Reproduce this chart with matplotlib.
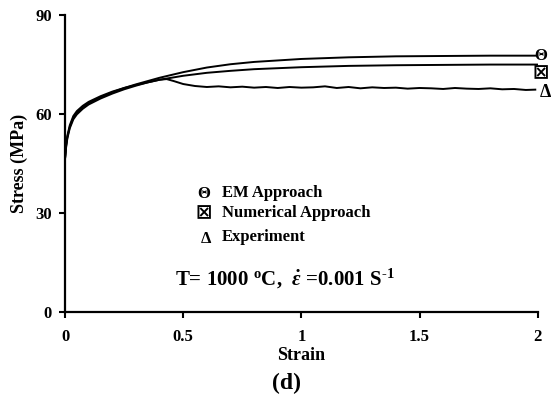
import matplotlib
matplotlib.use('Agg')
import matplotlib.pyplot as plt

# flow stress curves at 1000 C, strain rate 0.001 1/s
em_strain = [0, 0.005, 0.01, 0.02, 0.035, 0.05, 0.075, 0.1, 0.15, 0.2, 0.25, 0.3, 0.4, 0.5,
             0.6, 0.7, 0.8, 1.0, 1.2, 1.4, 1.6, 1.8, 2.0]
em_stress = [46.5, 50.5, 53.0, 56.0, 58.8, 60.3, 62.0, 63.2, 65.0, 66.5, 67.8, 68.9, 70.9, 72.6,
             74.0, 75.0, 75.7, 76.6, 77.1, 77.4, 77.5, 77.6, 77.6]

num_strain = [0, 0.005, 0.01, 0.02, 0.035, 0.05, 0.075, 0.1, 0.15, 0.2, 0.25, 0.3, 0.4, 0.5,
              0.6, 0.7, 0.8, 1.0, 1.2, 1.4, 1.6, 1.8, 2.0]
num_stress = [46.5, 50.9, 53.4, 56.5, 59.3, 60.8, 62.4, 63.6, 65.3, 66.7, 67.8, 68.7, 70.3, 71.5,
              72.4, 73.0, 73.5, 74.1, 74.5, 74.7, 74.8, 74.9, 74.9]

exp_strain = [0, 0.005, 0.01, 0.02, 0.035, 0.05, 0.075, 0.1, 0.15, 0.2, 0.25, 0.3, 0.35, 0.4,
              0.43, 0.46, 0.5, 0.55, 0.6, 0.65, 0.7, 0.75, 0.8, 0.85, 0.9, 0.95, 1.0, 1.05,
              1.1, 1.15, 1.2, 1.25, 1.3, 1.35, 1.4, 1.45, 1.5, 1.55, 1.6, 1.65, 1.7, 1.75,
              1.8, 1.85, 1.9, 1.95, 1.99]
exp_stress = [46.5, 50.2, 52.6, 55.6, 58.3, 59.8, 61.5, 62.8, 64.6, 66.1, 67.4, 68.5, 69.5, 70.3,
              70.5, 69.9, 69.0, 68.4, 68.1, 68.3, 68.0, 68.2, 67.9, 68.1, 67.8, 68.1, 67.9, 68.0,
              68.3, 67.8, 68.1, 67.7, 68.0, 67.8, 67.9, 67.6, 67.8, 67.7, 67.5, 67.8, 67.6, 67.5,
              67.7, 67.4, 67.5, 67.2, 67.3]

x_ticks = [0, 0.5, 1, 1.5, 2]
x_tick_labels = ['0', '0.5', '1', '1.5', '2']
y_ticks = [0, 30, 60, 90]

serif = 'Liberation Serif'
plt.rcParams['mathtext.fontset'] = 'custom'
plt.rcParams['mathtext.rm'] = 'Liberation Serif:bold'
plt.rcParams['mathtext.bf'] = 'Liberation Serif:bold'
plt.rcParams['mathtext.it'] = 'Liberation Serif:italic:bold'

fig = plt.figure(figsize=(5.56, 3.99), dpi=100)
ax = fig.add_axes([0.117, 0.219, 0.850, 0.744])

for xs, ys in [(em_strain, em_stress), (num_strain, num_stress), (exp_strain, exp_stress)]:
    ax.plot(xs, ys, color='black', lw=1.4)

ax.set_xlim(0, 2)
ax.set_ylim(0, 90)
ax.set_xticks(x_ticks)
ax.set_xticklabels(x_tick_labels)
ax.set_yticks(y_ticks)
for side in ['top', 'right']:
    ax.spines[side].set_visible(False)
for side in ['left', 'bottom']:
    ax.spines[side].set_linewidth(1.6)
ax.tick_params(direction='out', length=4.5, width=1.5)
ax.tick_params(axis='y', pad=5)
ax.tick_params(axis='x', pad=8)
for lbl in ax.get_xticklabels() + ax.get_yticklabels():
    lbl.set_fontfamily(serif)
    lbl.set_fontweight('bold')
    lbl.set_fontsize(12)

ax.set_xlabel('Strain', fontfamily=serif, fontweight='bold', fontsize=13)
ax.xaxis.set_label_coords(0.5, -0.118)
ax.set_ylabel('Stress (MPa)', fontfamily=serif, fontweight='bold', fontsize=13)
ax.yaxis.set_label_coords(-0.078, 0.5)

# end-of-curve symbols
ax.text(2.013, em_stress[-1], '\u0398', fontfamily=serif, fontweight='bold', fontsize=12,
        ha='center', va='center', clip_on=False)
ax.text(2.013, 72.6, '\u22a0', fontfamily='DejaVu Sans', fontweight='bold', fontsize=14,
        ha='center', va='center', clip_on=False)
ax.text(2.034, 66.3, '\u0394', fontfamily=serif, fontweight='bold', fontsize=13,
        ha='center', va='center', clip_on=False)

# key
ax.text(0.588, 35.6, '\u0398', fontfamily=serif, fontweight='bold', fontsize=12, ha='center', va='center')
ax.text(0.588, 30.0, '\u22a0', fontfamily='DejaVu Sans', fontweight='bold', fontsize=14, ha='center', va='center')
ax.text(0.596, 22.0, '\u0394', fontfamily=serif, fontweight='bold', fontsize=12, ha='center', va='center')
ax.text(0.664, 36.1, 'EM Approach', fontfamily=serif, fontweight='bold', fontsize=12, va='center')
ax.text(0.664, 29.9, 'Numerical Approach', fontfamily=serif, fontweight='bold', fontsize=12, va='center')
ax.text(0.664, 22.6, 'Experiment', fontfamily=serif, fontweight='bold', fontsize=12, va='center')

ax.text(0.465, 9.8, r'T= 1000 $^{\rm o}$C,  $\dot{\varepsilon}$ =0.001 S$^{\text{-1}}$',
        fontfamily=serif, fontweight='bold', fontsize=15, va='center')

fig.text(0.516, 0.04, '(d)', fontfamily=serif, fontweight='bold', fontsize=17, ha='center', va='center')

fig.savefig('out.png', dpi=100)
plt.close(fig)
